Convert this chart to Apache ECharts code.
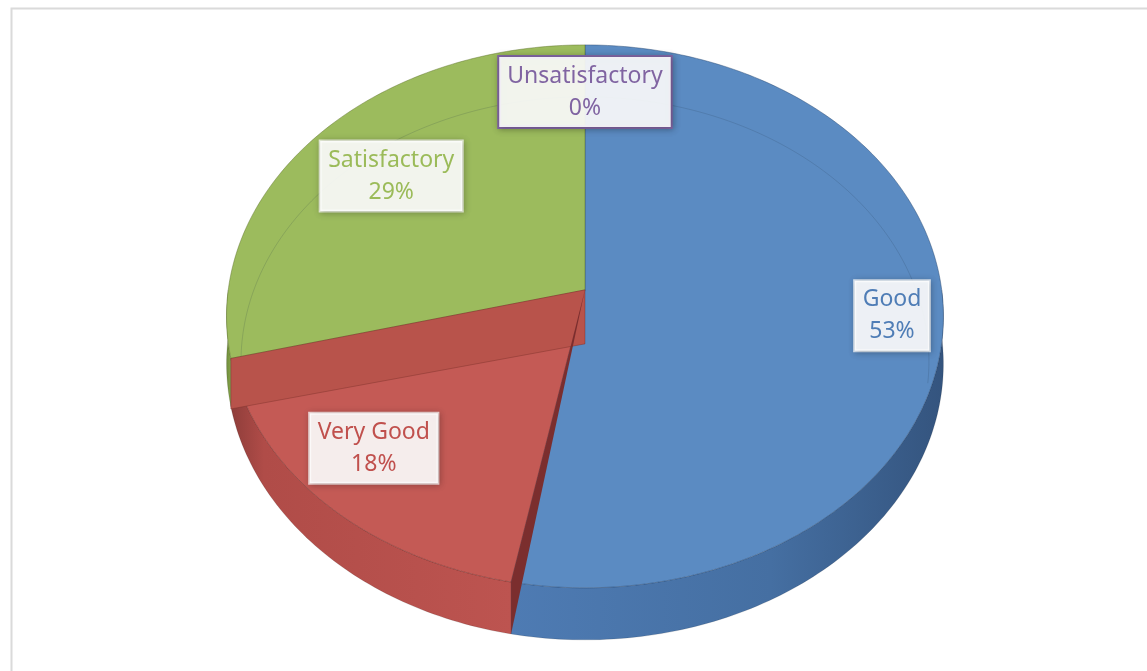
<!DOCTYPE html>
<html>
<head>
<meta charset="utf-8">
<script src="https://cdn.jsdelivr.net/npm/echarts@6/dist/echarts.min.js"></script>
<style>
html,body{margin:0;padding:0;background:#ffffff;}
#chart{width:1147px;height:671px;}
</style>
</head>
<body>
<div id="chart"></div>
<script>
// ---- data ----
const categories = ['Good', 'Very Good', 'Satisfactory', 'Unsatisfactory'];
const values = [53, 18, 29, 0];

// ---- styles / layout ----
const topColors  = ['#5b8bc2', '#c45a55', '#9cbb5d', '#8064a2'];
const edgeColors = ['rgba(40,70,110,0.45)', 'rgba(110,40,35,0.45)', 'rgba(90,110,40,0.45)', 'rgba(80,60,110,0.45)'];
const sideStops  = [
  [[0, '#4e7bb3'], [0.6, '#456fa2'], [1, '#34547e']],
  [[0, '#8e3d3a'], [0.12, '#b04c48'], [1, '#bd5450']],
  [[0, '#6d8a3a'], [1, '#87a64b']],
  [[0, '#6a5288'], [1, '#6a5288']]
];
const textColors = ['#4f7db6', '#c0504d', '#9bbb59', '#8064a2'];
const boxBorders = ['rgba(255,255,255,0.75)', 'rgba(255,255,255,0.75)', 'rgba(255,255,255,0.75)', '#8064a2'];
const labelRadius = [0.855, 0.76, 0.74, 0.81];
const labelShift  = [[1, 4], [-15, 1], [6, 3], [0, 4]];

const total = values.reduce((a, b) => a + b, 0);
let acc = 0;
const seriesData = values.map((v, i) => {
  const d = [acc, acc + v, v, i];
  acc += v;
  return d;
});

function renderItem(params, api) {
  const i = params.dataIndex;
  const W = api.getWidth(), H = api.getHeight();
  const cx = W * 0.51, cy = H * 0.432;
  const B = W * 0.311, A = H * 0.4007, K = 0.0976, D = H * 0.07;
  function P(theta, f, dz) {
    const t = theta * Math.PI / 180;
    const u = f * Math.sin(t), v = f * Math.cos(t);
    const den = 1 + K * v;
    return [cx + B * u / den, cy - A * v / den + D * dz / den];
  }
  function arc(a, b, f, dz) {
    const n = Math.max(2, Math.ceil(Math.abs(b - a)));
    const out = [];
    for (let j = 0; j <= n; j++) out.push(P(a + (b - a) * j / n, f, dz));
    return out;
  }
  const s = api.value(0) / total * 360;
  const e = api.value(1) / total * 360;
  const children = [];

  // outer side wall (front half only)
  const a = Math.max(s, 90), b = Math.min(e, 270);
  if (b > a) {
    children.push({
      type: 'polygon',
      shape: { points: arc(a, b, 1, 0).concat(arc(b, a, 1, 1)) },
      style: {
        fill: {
          type: 'linear', x: 0, y: 0, x2: 1, y2: 0,
          colorStops: sideStops[i].map(st => ({ offset: st[0], color: st[1] }))
        },
        stroke: 'rgba(0,0,0,0.12)', lineWidth: 1
      },
      z2: 1
    });
  }
  // top surface
  if (e > s) {
    children.push({
      type: 'polygon',
      shape: { points: [P(0, 0, 0)].concat(arc(s, e, 1, 0)) },
      style: { fill: topColors[i], stroke: edgeColors[i], lineWidth: 1 },
      z2: 2
    });
    // faint bevel highlight line on the rear part of the top
    const ranges = [[0, 100], [260, 360]];
    ranges.forEach(r => {
      const lo = Math.max(s, r[0]), hi = Math.min(e, r[1]);
      if (hi > lo) {
        children.push({
          type: 'polyline',
          shape: { points: arc(lo, hi, 0.96, 1.0) },
          style: { stroke: 'rgba(30,50,70,0.16)', lineWidth: 1, fill: null },
          z2: 3
        });
      }
    });
  }
  // radial faces of a slice lying fully in the front half
  if (e > s && s >= 90 && e <= 270) {
    children.push({
      type: 'polygon',
      shape: { points: [P(e, 0, 0), P(e, 1, 0), P(e, 1, 1.05), P(e, 0, 1.15)] },
      style: { fill: '#b8534b', stroke: 'rgba(110,40,35,0.35)', lineWidth: 1 },
      z2: 5
    });
    children.push({
      type: 'polygon',
      shape: { points: [P(s, 0, 0), P(s, 1, 0), P(s, 1, 1)] },
      style: { fill: '#7b2e2e' },
      z2: 6
    });
  }
  // label
  const mid = (s + e) / 2;
  const lp = P(mid, labelRadius[i], 0);
  const pct = Math.round(api.value(2) / total * 100) + '%';
  children.push({
    type: 'text',
    x: lp[0] + labelShift[i][0], y: lp[1] + labelShift[i][1],
    style: {
      text: categories[i] + '\n' + pct,
      fill: textColors[i],
      font: '23px "Noto Sans"',
      align: 'center', verticalAlign: 'middle',
      lineHeight: 32,
      backgroundColor: 'rgba(255,255,255,0.9)',
      borderColor: boxBorders[i],
      borderWidth: i === 3 ? 2 : 1.5,
      padding: [3, 8, 3, 8],
      shadowBlur: 6, shadowColor: 'rgba(0,0,0,0.25)', shadowOffsetX: 1, shadowOffsetY: 1
    },
    z2: 100
  });
  return { type: 'group', children };
}

const chart = echarts.init(document.getElementById('chart'), null, { renderer: 'canvas' });
chart.setOption({
  backgroundColor: '#ffffff',
  animation: false,
  graphic: [{
    type: 'rect', left: 9, top: 6, z: -10,
    shape: { width: 1160, height: 700 },
    style: { fill: 'none', stroke: '#dadada', lineWidth: 2 }
  }],
  series: [{
    type: 'custom',
    coordinateSystem: 'none',
    renderItem: renderItem,
    data: seriesData
  }]
});
</script>
</body>
</html>
